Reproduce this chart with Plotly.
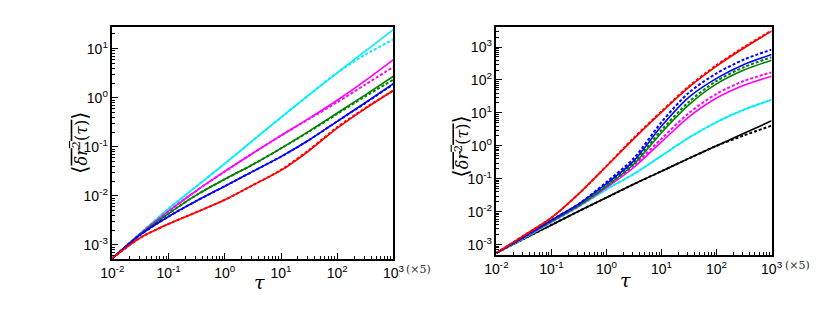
import plotly.graph_objects as go

# tau grid (half-decade steps)
tau = [0.01, 0.0316, 0.1, 0.316, 1, 3.16, 10, 31.6, 100, 316, 1000]

# ---- left panel ----
left_cyan = [5.37e-4, 1.74e-3, 5.50e-3, 1.58e-2, 4.57e-2, 0.135, 0.398, 1.15, 3.24, 8.91, 24.5]
left_cyan_d = [5.37e-4, 1.74e-3, 5.50e-3, 1.58e-2, 4.57e-2, 0.135, 0.398, 1.15, 3.24, 7.59, 15.5]
left_magenta = [5.37e-4, 1.70e-3, 4.90e-3, 1.29e-2, 3.16e-2, 7.41e-2, 0.170, 0.380, 0.891, 2.24, 6.03]
left_magenta_d = [5.37e-4, 1.70e-3, 4.90e-3, 1.29e-2, 3.16e-2, 7.41e-2, 0.170, 0.372, 0.813, 1.86, 4.27]
left_green = [5.37e-4, 1.66e-3, 4.37e-3, 1.05e-2, 2.19e-2, 4.37e-2, 9.33e-2, 0.209, 0.490, 1.15, 2.75]
left_green_d = [5.37e-4, 1.66e-3, 4.37e-3, 1.05e-2, 2.19e-2, 4.37e-2, 9.33e-2, 0.204, 0.470, 1.07, 2.34]
left_blue = [5.37e-4, 1.62e-3, 3.80e-3, 7.94e-3, 1.58e-2, 3.16e-2, 6.31e-2, 0.138, 0.331, 0.794, 1.95]
left_blue_d = [5.37e-4, 1.62e-3, 3.80e-3, 7.94e-3, 1.58e-2, 3.16e-2, 6.31e-2, 0.138, 0.331, 0.78, 1.90]
left_red = [5.37e-4, 1.41e-3, 2.69e-3, 4.68e-3, 8.32e-3, 1.66e-2, 3.31e-2, 8.32e-2, 0.240, 0.603, 1.41]
left_red_d = [5.37e-4, 1.41e-3, 2.69e-3, 4.68e-3, 8.32e-3, 1.66e-2, 3.39e-2, 8.71e-2, 0.251, 0.62, 1.41]

# ---- right panel ----
right_black = [5.62e-4, 1.51e-3, 3.98e-3, 1.047e-2, 2.69e-2, 6.92e-2, 0.170, 0.417, 1.00, 2.40, 5.75]
right_black_d = [5.62e-4, 1.51e-3, 3.98e-3, 1.047e-2, 2.69e-2, 6.92e-2, 0.170, 0.417, 1.00, 2.09, 4.07]
right_cyan = [5.62e-4, 1.58e-3, 4.79e-3, 1.445e-2, 4.79e-2, 0.141, 0.501, 1.78, 5.25, 12.6, 25.1]
right_magenta = [5.62e-4, 1.66e-3, 5.01e-3, 1.51e-2, 5.37e-2, 0.224, 1.32, 7.59, 28.2, 69.2, 129]
right_magenta_d = [5.62e-4, 1.66e-3, 5.01e-3, 1.51e-2, 5.75e-2, 0.257, 1.66, 10.0, 38.0, 93.3, 170]
right_green = [5.62e-4, 1.70e-3, 5.25e-3, 1.58e-2, 6.03e-2, 0.282, 2.51, 17.8, 75.9, 200, 398]
right_green_d = [5.62e-4, 1.70e-3, 5.25e-3, 1.58e-2, 6.46e-2, 0.316, 3.02, 21.9, 93.3, 245, 490]
right_blue = [5.62e-4, 1.74e-3, 5.62e-3, 1.74e-2, 7.08e-2, 0.355, 3.98, 30.2, 112, 295, 589]
right_blue_d = [5.62e-4, 1.74e-3, 5.62e-3, 1.74e-2, 7.94e-2, 0.427, 5.25, 41.7, 158, 417, 832]
right_red = [5.62e-4, 1.91e-3, 6.61e-3, 3.55e-2, 0.240, 1.66, 10.5, 60.3, 263, 933, 3020]
right_red_d = [5.62e-4, 1.91e-3, 6.61e-3, 3.55e-2, 0.245, 1.78, 11.2, 64.6, 282, 1000, 3160]

tick_vals = [0.01, 0.1, 1, 10, 100, 1000]
x_tick_text = ["10<sup>-2</sup>", "10<sup>-1</sup>", "10<sup>0</sup>", "10<sup>1</sup>", "10<sup>2</sup>", "10<sup>3</sup>"]
y_left_vals = [1e-3, 1e-2, 1e-1, 1, 10]
y_left_text = ["10<sup>-3</sup>", "10<sup>-2</sup>", "10<sup>-1</sup>", "10<sup>0</sup>", "10<sup>1</sup>"]
y_right_vals = [1e-3, 1e-2, 1e-1, 1, 10, 100, 1000]
y_right_text = ["10<sup>-3</sup>", "10<sup>-2</sup>", "10<sup>-1</sup>", "10<sup>0</sup>",
                "10<sup>1</sup>", "10<sup>2</sup>", "10<sup>3</sup>"]

fig = go.Figure()

def add(y, color, dashed, xa, ya):
    fig.add_trace(go.Scatter(
        x=tau, y=y, mode="lines", xaxis=xa, yaxis=ya, showlegend=False,
        line=dict(color=color, width=2 if dashed else 1.6, shape="spline", smoothing=0.8,
                  dash="3px,2px" if dashed else "solid"),
    ))

CYAN, MAGENTA, GREEN, BLUE, RED = "#00eeff", "#ff00ff", "#008000", "#0000ff", "#ff0000"

left = [(left_cyan, left_cyan_d, CYAN), (left_magenta, left_magenta_d, MAGENTA),
        (left_green, left_green_d, GREEN), (left_blue, left_blue_d, BLUE),
        (left_red, left_red_d, RED)]
for s, d, c in left:
    add(s, c, False, "x", "y")
    add(d, c, True, "x", "y")

right = [(right_black, right_black_d, "#000000"), (right_cyan, right_cyan, CYAN),
         (right_magenta, right_magenta_d, MAGENTA), (right_green, right_green_d, GREEN),
         (right_blue, right_blue_d, BLUE), (right_red, right_red_d, RED)]
for s, d, c in right:
    add(s, c, False, "x2", "y2")
    add(d, c, True, "x2", "y2")

tickfont = dict(family="Liberation Sans, Arial, sans-serif", size=14, color="black")
common = dict(type="log", showline=True, linecolor="black", linewidth=1.5, mirror=True,
              ticks="inside", ticklen=6, tickwidth=1.2, tickcolor="black", showgrid=False,
              zeroline=False, tickfont=tickfont, tickmode="array",
              minor=dict(ticks="inside", ticklen=3, tickcolor="black", dtick="D1", showgrid=False))

fig.update_layout(
    width=830, height=320, margin=dict(l=0, r=0, t=0, b=0),
    paper_bgcolor="white", plot_bgcolor="white",
    xaxis=dict(common, domain=[0.1145, 0.4627], range=[-2, 3], anchor="y",
               tickvals=tick_vals, ticktext=x_tick_text),
    yaxis=dict(common, domain=[0.2156, 0.9406], range=[-3.286, 1.443], anchor="x",
               tickvals=y_left_vals, ticktext=y_left_text),
    xaxis2=dict(common, domain=[0.5904, 0.9313], range=[-2, 3], anchor="y2",
                tickvals=tick_vals, ticktext=x_tick_text),
    yaxis2=dict(common, domain=[0.2281, 0.9406], range=[-3.313, 3.607], anchor="x2",
                tickvals=y_right_vals, ticktext=y_right_text),
)

serif = "DejaVu Serif, Liberation Serif, serif"
ylabel = ("<span style='font-size:21px'>⟨</span>"
          "<span style='text-decoration:overline'><i>δr</i><sup>2</sup>(<i>τ</i>)</span>"
          "<span style='font-size:21px'>⟩</span>")
for xc, yc in [(47, 135), (454, 138)]:
    fig.add_annotation(x=xc / 830, y=1 - yc / 320, xref="paper", yref="paper", textangle=-90,
                       text=ylabel, showarrow=False,
                       font=dict(family=serif, size=16, color="black"))
for xc, yc in [(239, 287), (630, 285)]:
    fig.add_annotation(x=xc / 830, y=1 - yc / 320, xref="paper", yref="paper",
                       text="<i>τ</i>", showarrow=False,
                       font=dict(family=serif, size=19, color="black"))
for xc, yc in [(395, 270), (785, 266)]:
    fig.add_annotation(x=xc / 830, y=1 - yc / 320, xref="paper", yref="paper",
                       xanchor="left", text="(×5)", showarrow=False,
                       font=dict(family=serif, size=11, color="#333333"))

fig.write_html("out.html")
